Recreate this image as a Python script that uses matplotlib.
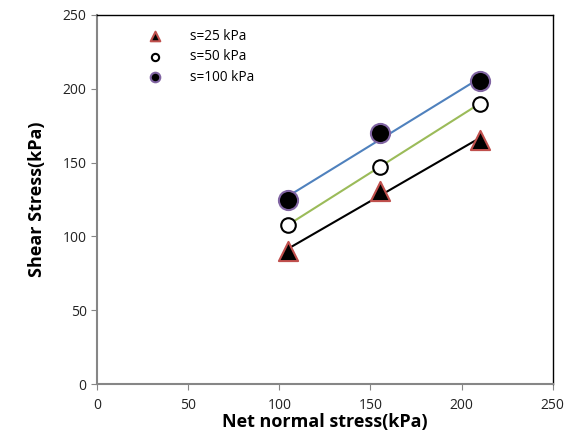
import numpy as np
import matplotlib
matplotlib.use("Agg")
import matplotlib.pyplot as plt

plt.rcParams['font.family'] = ['Open Sans', 'DejaVu Sans']

net_normal = [105, 155, 210]
shear_s25 = [90, 131, 165]
shear_s50 = [108, 147, 190]
shear_s100 = [125, 170, 205]
x_ticks = [0, 50, 100, 150, 200, 250]
y_ticks = [0, 50, 100, 150, 200, 250]

fig = plt.figure(figsize=(5.71, 4.38), dpi=100)
ax = fig.add_axes([0.170, 0.123, 0.798, 0.843])

x = np.array(net_normal, dtype=float)

def trend(y, color):
    k, b = np.polyfit(x, np.array(y, dtype=float), 1)
    xs = np.array([x.min(), x.max()])
    ax.plot(xs, k * xs + b, color=color, lw=1.5, zorder=2)

trend(shear_s25, 'black')
trend(shear_s50, '#9BBB59')
trend(shear_s100, '#4F81BD')

ax.scatter(net_normal, shear_s25, marker='^', s=190, facecolor='black',
           edgecolor='#C0504D', linewidth=1.5, zorder=3, label='s=25 kPa')
ax.scatter(net_normal, shear_s50, marker='o', s=110, facecolor='white',
           edgecolor='black', linewidth=1.5, zorder=3, label='s=50 kPa')
ax.scatter(net_normal, shear_s100, marker='o', s=190, facecolor='black',
           edgecolor='#8064A2', linewidth=1.5, zorder=3, label='s=100 kPa')

ax.set_xlim(0, 250)
ax.set_ylim(0, 250)
ax.set_xticks(x_ticks)
ax.set_yticks(y_ticks)
ax.tick_params(direction='out', length=4, color='#868686', labelsize=10,
               labelcolor='#222222')
ax.tick_params(axis='x', pad=6)
for side in ('left', 'bottom'):
    ax.spines[side].set_color('#868686')
    ax.spines[side].set_linewidth(1.5)
for side in ('top', 'right'):
    ax.spines[side].set_color('black')
    ax.spines[side].set_linewidth(1.0)

ax.set_xlabel('Net normal stress(kPa)', fontsize=13, fontweight='bold', labelpad=0)
ax.set_ylabel('Shear Stress(kPa)', fontsize=13, fontweight='bold', labelpad=12)

leg = ax.legend(loc='upper left', bbox_to_anchor=(0.07, 0.995), frameon=False,
                fontsize=9.8, markerscale=0.5, handletextpad=1.6,
                labelspacing=0.4, scatterpoints=1)

fig.savefig('out.png', dpi=100)
